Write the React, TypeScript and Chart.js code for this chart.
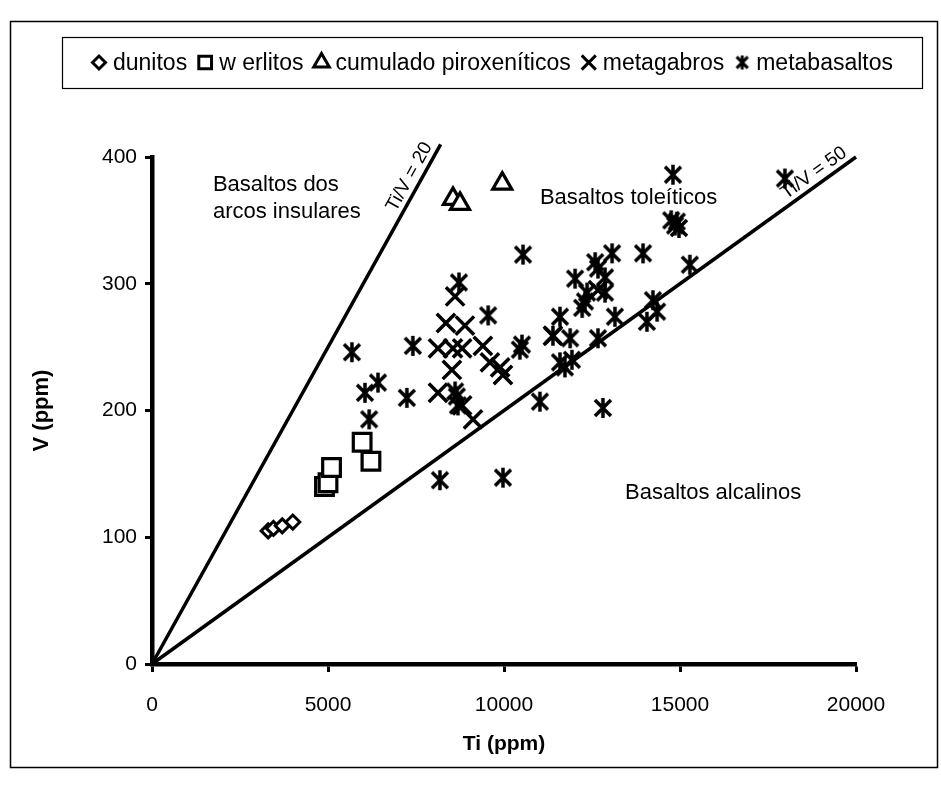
import React, { useEffect, useRef } from "react";
import { Chart, registerables } from "chart.js";

Chart.register(...registerables);

// ---------- DATA ----------
const dunitosTi = [3300, 3450, 3700, 4000];
const dunitosV = [105, 107, 109, 112];

const werlitosTi = [4900, 5000, 5100, 5970, 6220];
const werlitosV = [140, 143, 155, 175, 160];

const cumuladosTi = [8550, 8750, 9950];
const cumuladosV = [367, 363, 379];

const metagabrosTi = [8610, 8350, 8890, 8125, 8550, 8810, 9400, 8520, 8125, 8810, 9120, 9600, 9890, 9970, 11390, 12670];
const metagabrosV = [290, 269, 267, 249, 249, 249, 251, 232, 214, 204, 193, 238, 234, 228, 259, 295];

const metabasaltosTi = [
  5680, 7410, 6420, 6050, 7240, 6170, 9550, 10450, 10510, 8660, 8690, 8610, 8180, 9970, 8720,
  10540, 14800, 14860, 14750, 14970, 14910, 17980, 12590, 12670, 13070, 13950, 15280, 12020,
  12870, 12870, 12360, 12220, 12300, 11590, 11390, 11880, 12670, 13150, 14230, 14350, 14060,
  11590, 11930, 11730, 11020, 12810,
];
const metabasaltosV = [
  246, 251, 222, 214, 210, 193, 275, 248, 252, 211, 204, 215, 145, 147, 301,
  323, 386, 346, 350, 344, 349, 383, 317, 312, 324, 324, 315, 304,
  305, 293, 293, 281, 286, 274, 259, 257, 257, 274, 287, 278, 270,
  238, 240, 234, 207, 202,
];

// reference lines Ti/V = 20 and Ti/V = 50 (end points)
const line20Ti = [0, 8200];
const line20V = [0, 410];
const line50Ti = [0, 20000];
const line50V = [0, 400];

// axis ticks
const xTicks = [0, 5000, 10000, 15000, 20000];
const yTicks = [0, 100, 200, 300, 400];

// field labels
const fieldTexts = ["Basaltos dos", "arcos insulares", "Basaltos toleíticos", "Basaltos alcalinos"];
const fieldTi = [1730, 1730, 11020, 13440];
const fieldV = [378, 357, 368, 135];

// line labels: text and Ti position along each line
const lineLabelTexts = ["Ti/V = 20", "Ti/V = 50"];
const lineLabelTi = [7600, 19000];

const FONT = '"Liberation Sans", Arial, sans-serif';

function makeAsterisk(size: number, lw: number): HTMLCanvasElement {
  const c = document.createElement("canvas");
  c.width = size;
  c.height = size;
  const ctx = c.getContext("2d")!;
  ctx.strokeStyle = "#000";
  ctx.lineWidth = lw;
  const m = size / 2;
  const a = size / 2 - 1;
  const d = a * 0.8;
  ctx.beginPath();
  ctx.moveTo(m, m - a);
  ctx.lineTo(m, m + a);
  ctx.moveTo(m - d, m - d);
  ctx.lineTo(m + d, m + d);
  ctx.moveTo(m + d, m - d);
  ctx.lineTo(m - d, m + d);
  ctx.stroke();
  return c;
}

const toPts = (xs: number[], ys: number[]) => xs.map((x, i) => ({ x, y: ys[i] }));

function drawMarker(ctx: CanvasRenderingContext2D, style: any, x: number, y: number, r: number, lw: number) {
  if (typeof style !== "string") {
    ctx.drawImage(style, x - style.width / 2, y - style.height / 2);
    return;
  }
  ctx.beginPath();
  if (style === "rectRot") {
    ctx.moveTo(x - r, y);
    ctx.lineTo(x, y - r);
    ctx.lineTo(x + r, y);
    ctx.lineTo(x, y + r);
    ctx.closePath();
  } else if (style === "rect") {
    const s = r * Math.SQRT1_2;
    ctx.rect(x - s, y - s, 2 * s, 2 * s);
  } else if (style === "triangle") {
    ctx.moveTo(x, y - r);
    ctx.lineTo(x + r * 0.866, y + r * 0.5);
    ctx.lineTo(x - r * 0.866, y + r * 0.5);
    ctx.closePath();
  } else if (style === "crossRot") {
    const o = r * Math.SQRT1_2;
    ctx.moveTo(x - o, y - o);
    ctx.lineTo(x + o, y + o);
    ctx.moveTo(x + o, y - o);
    ctx.lineTo(x - o, y + o);
    ctx.lineWidth = lw;
    ctx.stroke();
    return;
  }
  ctx.lineWidth = lw;
  ctx.fill();
  ctx.stroke();
}

export default function App() {
  const ref = useRef<HTMLCanvasElement | null>(null);

  useEffect(() => {
    if (!ref.current) return;
    const asterisk = makeAsterisk(22, 3.5);
    const asteriskSmall = makeAsterisk(16, 3);

    const legendItems = [
      { label: "dunitos", style: "rectRot", r: 6.5, lw: 3 },
      { label: "w erlitos", style: "rect", r: 9, lw: 3 },
      { label: "cumulado piroxeníticos", style: "triangle", r: 9, lw: 3 },
      { label: "metagabros", style: "crossRot", r: 10, lw: 3 },
      { label: "metabasaltos", style: asteriskSmall, r: 8, lw: 3 },
    ];

    const framePlugin = {
      id: "frameAndLegend",
      afterDraw(chart: any) {
        const ctx: CanvasRenderingContext2D = chart.ctx;
        ctx.save();
        // outer frame
        ctx.strokeStyle = "#000";
        ctx.lineWidth = 1.5;
        ctx.strokeRect(10.5, 21.5, 927, 746);
        // legend box
        ctx.lineWidth = 1.2;
        const bx = 62, by = 37, bw = 860, bh = 51;
        ctx.fillStyle = "#fff";
        ctx.fillRect(bx, by, bw, bh);
        ctx.strokeRect(bx + 0.5, by + 0.5, bw, bh);
        ctx.font = "23px " + FONT;
        ctx.textBaseline = "middle";
        ctx.fillStyle = "#000";
        const markerW = 16, g1 = 6, g2 = 10;
        let total = 0;
        legendItems.forEach((it, i) => {
          total += markerW + g1 + ctx.measureText(it.label).width + (i ? g2 : 0);
        });
        let x = bx + (bw - total) / 2;
        const cy = by + bh / 2;
        legendItems.forEach((it) => {
          const mx = x + markerW / 2;
          ctx.save();
          ctx.strokeStyle = "#000";
          ctx.fillStyle = "#fff";
          drawMarker(ctx, it.style, mx, cy, it.r, it.lw);
          ctx.restore();
          x += markerW + g1;
          ctx.fillStyle = "#000";
          ctx.fillText(it.label, x, cy + 1);
          x += ctx.measureText(it.label).width + g2;
        });

        // field labels
        const xs = chart.scales.x;
        const ys = chart.scales.y;
        ctx.font = "22px " + FONT;
        ctx.textAlign = "left";
        fieldTexts.forEach((t, i) => {
          ctx.fillText(t, xs.getPixelForValue(fieldTi[i]), ys.getPixelForValue(fieldV[i]));
        });

        // line labels
        const lines = [
          [line20Ti, line20V],
          [line50Ti, line50V],
        ];
        ctx.font = "19px " + FONT;
        ctx.textAlign = "center";
        ctx.textBaseline = "bottom";
        lineLabelTexts.forEach((t, i) => {
          const [lt, lv] = lines[i];
          const x0 = xs.getPixelForValue(lt[0]);
          const y0 = ys.getPixelForValue(lv[0]);
          const x1 = xs.getPixelForValue(lt[1]);
          const y1 = ys.getPixelForValue(lv[1]);
          const ang = Math.atan2(y1 - y0, x1 - x0);
          const px = xs.getPixelForValue(lineLabelTi[i]);
          const py = y0 + ((px - x0) * (y1 - y0)) / (x1 - x0);
          ctx.save();
          ctx.translate(px, py);
          ctx.rotate(ang);
          ctx.fillText(t, 0, -2);
          ctx.restore();
        });
        ctx.restore();
      },
    };

    const common = { showLine: false, borderColor: "#000", backgroundColor: "#fff" };

    const chart = new Chart(ref.current, {
      type: "scatter",
      data: {
        datasets: [
          { ...common, label: "dunitos", data: toPts(dunitosTi, dunitosV), pointStyle: "rectRot", pointRadius: 7, borderWidth: 3 },
          { ...common, label: "w erlitos", data: toPts(werlitosTi, werlitosV), pointStyle: "rect", pointRadius: 12.5, borderWidth: 3.2 },
          { ...common, label: "cumulado piroxeníticos", data: toPts(cumuladosTi, cumuladosV), pointStyle: "triangle", pointRadius: 11, borderWidth: 3.2 },
          { ...common, label: "metagabros", data: toPts(metagabrosTi, metagabrosV), pointStyle: "crossRot", pointRadius: 13, borderWidth: 3.5 },
          { ...common, label: "metabasaltos", data: toPts(metabasaltosTi, metabasaltosV), pointStyle: asterisk as any, pointRadius: 11, borderWidth: 3.5 },
          { label: "Ti/V = 20", data: toPts(line20Ti, line20V), showLine: true, pointRadius: 0, borderColor: "#000", borderWidth: 3.5, clip: false as any },
          { label: "Ti/V = 50", data: toPts(line50Ti, line50V), showLine: true, pointRadius: 0, borderColor: "#000", borderWidth: 3.5, clip: false as any },
        ] as any,
      },
      options: {
        animation: false,
        responsive: false,
        maintainAspectRatio: false,
        devicePixelRatio: 1,
        layout: { padding: { top: 157, right: 85, left: 0, bottom: 0 } },
        plugins: { legend: { display: false }, tooltip: { enabled: false } },
        scales: {
          x: {
            type: "linear",
            min: 0,
            max: 20000,
            afterBuildTicks: (s: any) => { s.ticks = xTicks.map((v) => ({ value: v })); },
            afterFit: (s: any) => { s.height = 122; },
            ticks: { color: "#000", font: { family: FONT, size: 21 }, padding: 21, callback: (v: any) => String(v), maxRotation: 0 },
            grid: { drawOnChartArea: false, drawTicks: true, tickLength: 8, tickWidth: 3, tickColor: "#000" },
            border: { display: true, color: "#000", width: 4.5 },
            title: { display: true, text: "Ti (ppm)", color: "#000", font: { family: FONT, size: 21, weight: "bold" }, padding: { top: 0, bottom: 29 } },
          },
          y: {
            type: "linear",
            min: 0,
            max: 400,
            afterBuildTicks: (s: any) => { s.ticks = yTicks.map((v) => ({ value: v })); },
            afterFit: (s: any) => { s.width = 152; },
            ticks: { color: "#000", font: { family: FONT, size: 21 }, padding: 8, callback: (v: any) => String(v) },
            grid: { drawOnChartArea: false, drawTicks: true, tickLength: 7, tickWidth: 3, tickColor: "#000" },
            border: { display: true, color: "#000", width: 4.5 },
            title: { display: true, text: "V (ppm)", color: "#000", font: { family: FONT, size: 22, weight: "bold" }, padding: { top: 29, bottom: 0 } },
          },
        },
      } as any,
      plugins: [framePlugin],
    });
    return () => chart.destroy();
  }, []);

  return (
    <div style={{ position: "fixed", left: 0, top: 0, width: 941, height: 786, background: "#fff" }}>
      <canvas ref={ref} width={941} height={786} style={{ width: 941, height: 786, display: "block" }} />
    </div>
  );
}
